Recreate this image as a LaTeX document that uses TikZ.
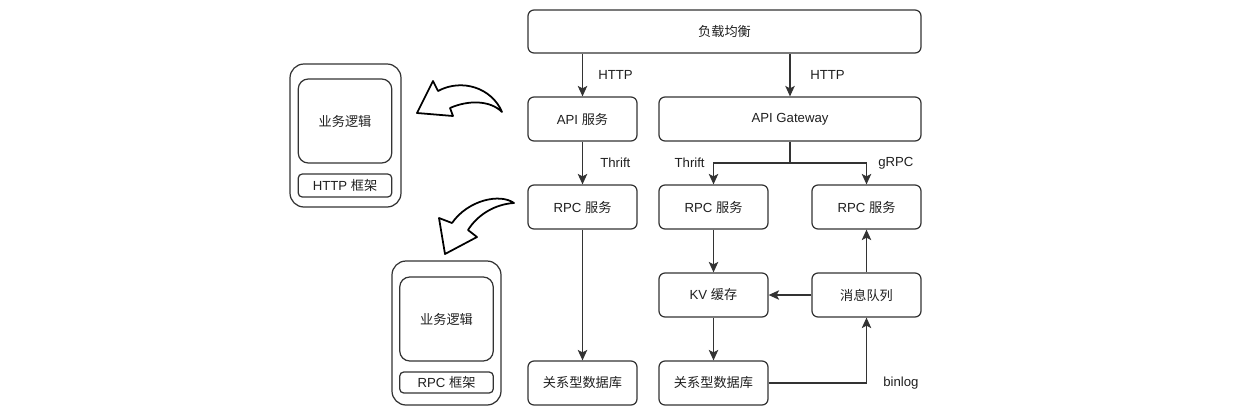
\documentclass[tikz,border=0pt]{standalone}
\usepackage{fontspec}
\setmainfont{Liberation Sans}
\newfontfamily\cjk{Noto Sans CJK SC}
\usetikzlibrary{arrows.meta, positioning, calc}
\definecolor{lineGray}{HTML}{333333}
\definecolor{textDark}{HTML}{1f1f1f}
\def\boxW{21.8mm}
\def\boxH{8.8mm}
\def\bizW{18.7mm}
\def\bizH{16.8mm}

\begin{document}
\begin{tikzpicture}[x=0.2mm, y=-0.2mm,
                    font=\fontsize{7.5}{9}\selectfont, text=textDark,
    svc/.style={draw=lineGray, line width=0.7pt, rounded corners=1.2mm,
                minimum width=\boxW, minimum height=\boxH, inner sep=0pt},
    flow/.style={draw=lineGray, line width=0.7pt,
                 -{Stealth[length=2.1mm, width=1.9mm, inset=0.5mm]}},
    tag/.style={inner sep=0pt},
    frame/.style={draw=lineGray, line width=0.7pt, inner sep=0pt},
    curveArrow/.style={draw=black, fill=white, line width=1pt,
                 line join=round}]

    \useasboundingbox (0,0) rectangle (1240,410);

    % ==========================================================
    % 1. SERVICE BOXES (right part)
    % ==========================================================
    \node[svc, minimum width=78.6mm, minimum height=8.6mm]
        (lb) at (724.5,31.5) {\cjk 负载均衡};
    \node[svc] (api) at (582.5,119) {API {\cjk 服务}};
    \node[svc, minimum width=52.4mm] (gw) at (790,119) {API Gateway};

    \node[svc] (rpcA) at (582.5,207) {RPC {\cjk 服务}};
    \node[svc] (rpcB) at (713.5,207) {RPC {\cjk 服务}};
    \node[svc] (rpcC) at (866.5,207) {RPC {\cjk 服务}};

    \node[svc] (kv) at (713.5,295) {KV {\cjk 缓存}};
    \node[svc] (mq) at (866.5,295) {\cjk 消息队列};

    \node[svc] (dbA) at (582.5,383) {\cjk 关系型数据库};
    \node[svc] (dbB) at (713.5,383) {\cjk 关系型数据库};

    % ==========================================================
    % 2. CONNECTORS + PROTOCOL LABELS
    % ==========================================================
    \coordinate (split) at (790,163);

    \draw[flow] (lb.south -| api.north) -- (api.north);
    \draw[flow] (lb.south -| gw.north) -- (gw.north);
    \draw[flow] (api.south) -- (rpcA.north);
    \draw[draw=lineGray, line width=0.7pt] (gw.south) -- (split);
    \draw[flow] (split) -| (rpcB.north);
    \draw[flow] (split) -| (rpcC.north);
    \draw[flow] (rpcA.south) -- (dbA.north);
    \draw[flow] (rpcB.south) -- (kv.north);
    \draw[flow] (kv.south) -- (dbB.north);
    \draw[flow] (mq.west) -- (kv.east);
    \draw[flow] (mq.north) -- (rpcC.south);
    \draw[flow] (dbB.east) -| (mq.south);

    \node[tag, anchor=west] (http1) at (598,75) {HTTP};
    \node[tag, anchor=west] (http2) at (810,75) {HTTP};
    \node[tag, anchor=west] (thrift1) at (600,163) {Thrift};
    \node[tag, anchor=east] (thrift2) at (705,163) {Thrift};
    \node[tag, anchor=west] (grpc) at (878,163) {gRPC};
    \node[tag, anchor=west] (binlog) at (883,383) {binlog};

    % ==========================================================
    % 3. FRAMEWORK SKETCHES (left part)
    % ==========================================================
    % HTTP framework
    \node[frame, rounded corners=2.8mm, minimum width=22.2mm,
          minimum height=28.6mm] (httpOuter) at (345.5,135.5) {};
    \node[frame, rounded corners=2mm, minimum width=\bizW,
          minimum height=\bizH] (httpBiz) at (345,121) {\cjk 业务逻辑};
    \node[frame, rounded corners=0.8mm, minimum width=\bizW,
          minimum height=4.6mm] (httpFw) at (345,185.5) {HTTP {\cjk 框架}};

    % RPC framework
    \node[frame, rounded corners=2.8mm, minimum width=21.8mm,
          minimum height=28.8mm] (rpcOuter) at (446.5,333) {};
    \node[frame, rounded corners=2mm, minimum width=\bizW,
          minimum height=\bizH] (rpcBiz) at (446.5,319) {\cjk 业务逻辑};
    \node[frame, rounded corners=0.8mm, minimum width=\bizW,
          minimum height=4.2mm] (rpcFw) at (446.5,382.5) {RPC {\cjk 框架}};

    % ==========================================================
    % 4. CURVED BLOCK ARROWS
    % ==========================================================
    \draw[curveArrow] (502,112) .. controls (492,88) and (462,78) .. (438,91)
        -- (433,81) -- (417,113) -- (453,116) -- (450,108)
        .. controls (468,100) and (490,100) .. (502,112) -- cycle;

    \draw[curveArrow] (514,203) .. controls (500,193) and (468,200) .. (452,223)
        -- (439,218) -- (445,254) -- (477,237) -- (468,230)
        .. controls (478,214) and (496,204) .. (514,203) -- cycle;

\end{tikzpicture}
\end{document}
